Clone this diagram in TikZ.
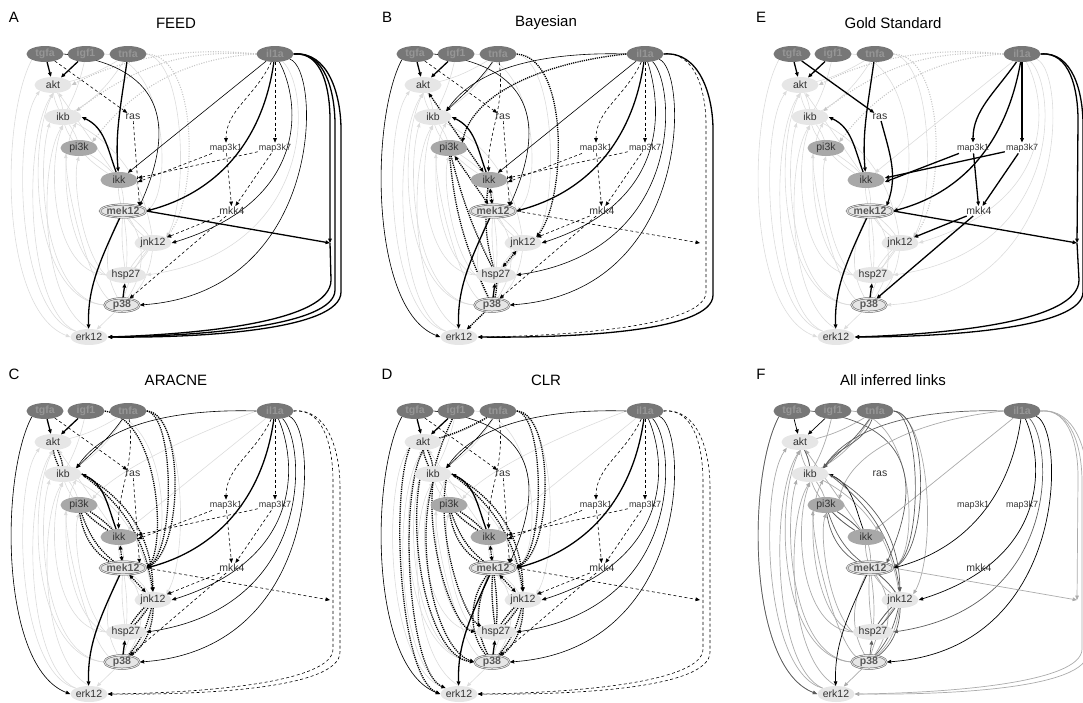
\documentclass[tikz,border=0pt]{standalone}
\usepackage{fontspec}
\setmainfont{Liberation Sans}
\usetikzlibrary{shapes.geometric,arrows.meta,backgrounds}

\definecolor{inpfill}{HTML}{777777}
\definecolor{inptext}{HTML}{969696}
\definecolor{midfill}{HTML}{A8A8A8}
\definecolor{litfill}{HTML}{E6E6E6}
\definecolor{obsline}{HTML}{595959}
\definecolor{bgline}{HTML}{DCDCDC}
\definecolor{fdark}{HTML}{5C5C5C}
\definecolor{flight}{HTML}{ABABAB}

\tikzset{
  gnode/.style={ellipse, inner sep=0pt, minimum width=37pt, minimum height=16pt,
    font=\fontsize{10.5}{11}\selectfont, text=black!80},
  inp/.style={gnode, fill=inpfill, text=inptext, font=\fontsize{10.5}{11}\selectfont\bfseries},
  lit/.style={gnode, fill=litfill},
  mid/.style={gnode, fill=midfill},
  obs/.style={gnode, fill=litfill, draw=obsline, double=litfill, double distance=0.9pt,
    line width=0.5pt, minimum width=35pt, minimum height=13pt, text=obsline,
    font=\fontsize{10.5}{11}\selectfont\bfseries},
  lbl/.style={inner sep=1pt, font=\fontsize{10.5}{11}\selectfont, text=black!80},
  mlbl/.style={lbl, font=\fontsize{9}{10}\selectfont},
  ttl/.style={font=\fontsize{15}{16}\selectfont},
  bg/.style={->, draw=bgline, line width=0.6pt},
  bgdot/.style={->, draw=bgline!90!black, line width=1.1pt, dash pattern=on 1pt off 1.5pt},
  hit/.style={->, line width=0.6pt},
  hitk/.style={->, line width=1.3pt},
  hitd/.style={->, line width=0.6pt, dash pattern=on 3pt off 2.5pt},
  hitp/.style={->, line width=1.3pt, dash pattern=on 1.2pt off 1pt},
  fblk/.style={->, line width=0.7pt},
  fdrk/.style={->, draw=fdark, line width=0.7pt},
  flgt/.style={->, draw=flight, line width=0.7pt},
}

% the nodes of one panel
\newcommand{\cellnet}{%
  \node[inp] (tgfa) at (45,54) {tgfa};
  \node[inp] (igf1) at (86,54) {igf1};
  \node[inp] (tnfa) at (128,54) {tnfa};
  \node[inp] (il1a) at (275,54) {il1a};
  \node[lit] (akt) at (53,85) {akt};
  \node[lit] (ikb) at (63,117) {ikb};
  \node[lbl] (ras) at (133,117) {ras};
  \node[mid] (pi3k) at (79,148) {pi3k};
  \node[mlbl] (map3k1) at (226,148) {map3k1};
  \node[mlbl] (map3k7) at (275,148) {map3k7};
  \node[mid] (ikk) at (119,180) {ikk};
  \node[obs] (mek12) at (123,211) {mek12};
  \node[lbl] (mkk4) at (232,211) {mkk4};
  \node[lit] (jnk12) at (153,243) {jnk12};
  \coordinate (junc) at (330,243);
  \node[lit] (hsp27) at (126,275) {hsp27};
  \node[obs] (p38) at (122,305) {p38};
  \node[lit] (erk12) at (89,337) {erk12};
}

% prior links of the left column
\newcommand{\priornet}[1]{%
  \draw[#1] (tgfa.south west) .. controls (0,120) and (0,310) .. (erk12.west);
  \draw[#1] (erk12.north west) .. controls (16,315) and (12,130) .. (akt.south west);
  \draw[#1] (erk12.north west) .. controls (26,310) and (22,140) .. (akt.south);
  \draw[#1] (p38.west) .. controls (34,300) and (26,150) .. (akt.south);
  \draw[#1] (p38.west) .. controls (44,300) and (36,170) .. (ikb.south west);
  \draw[#1] (erk12.north) .. controls (38,300) and (40,160) .. (ikb.south);
  \draw[#1] (hsp27.west) .. controls (54,272) and (46,170) .. (ikb.south);
  \draw[#1] (hsp27.west) .. controls (68,262) and (56,160) .. (ikb.south east);
  \draw[#1] (hsp27.west) .. controls (82,252) and (72,180) .. (pi3k.south);
  \draw[#1] (p38.north west) .. controls (88,282) and (66,190) .. (pi3k.south west);
  \draw[#1] (akt) to[bend left=12] (ikb);
  \draw[#1] (ikb) to[bend left=12] (akt);
  \draw[#1] (ikb) to[bend left=12] (pi3k);
  \draw[#1] (pi3k) to[bend left=12] (ikb);
  \draw[#1] (pi3k) to[bend left=8] (ikk);
  \draw[#1] (ikk) to[bend left=8] (pi3k);
  \draw[#1] (ikk) to[bend left=10] (mek12);
  \draw[#1] (mek12) to[bend left=10] (ikk);
  \draw[#1] (mek12) to[bend left=10] (jnk12);
  \draw[#1] (jnk12) to[bend left=10] (mek12);
  \draw[#1] (mek12) to[bend left=6] (hsp27);
  \draw[#1] (hsp27) to[bend left=6] (mek12);
  \draw[#1] (mek12) to[bend right=30] (p38);
  \draw[#1] (p38) to[bend right=38] (mek12);
  \draw[#1] (jnk12) to[bend left=8] (hsp27);
  \draw[#1] (hsp27) to[bend left=8] (jnk12);
  \draw[#1] (jnk12) to[bend left=22] (p38);
  \draw[#1] (p38) to[bend left=12] (jnk12);
  \draw[#1] (p38) -- (erk12);
  \draw[#1] (ikk) -- (akt);
  \draw[#1] (jnk12) to[bend right=28] (ikb);
  \draw[#1] (tnfa) to[bend left=10] (akt);
  \draw[#1] (tnfa) to[bend left=15] (ikb);
  \draw[#1] (igf1) to[bend left=8] (ikb);
  \draw[#1] (igf1.east) .. controls (168,60) and (172,190) .. (mek12.east);
  \draw[#1] (tnfa.east) .. controls (186,62) and (188,200) .. (jnk12.north east);
}

% links shared by the four inferred panels
\newcommand{\stimlinks}{%
  \draw[hitk] (tgfa) -- (akt);
  \draw[hitk] (igf1) -- (akt);
  \draw[hitd] (tgfa) -- (ras);
  \draw[hitk] (ikk) to[out=110,in=-25] (ikb.east);
  \draw[hitk] (il1a) to[out=-98,in=15] (mek12.east);
  \draw[hitd] (ras) -- (mek12.north east);
  \draw[hitk] (p38) -- (hsp27);
  \draw[hitk] (mek12) to[out=-115,in=92] (erk12);
}
\newcommand{\mapcascade}{%
  \draw[hitd] (il1a) to[out=-115,in=90] (map3k1);
  \draw[hitd] (il1a) -- (map3k7);
  \draw[hitd] (map3k1) -- ([yshift=-2pt]ikk.east);
  \draw[hitd] (map3k7) -- ([yshift=2pt]ikk.east);
  \draw[hitd] (map3k1) -- (mkk4);
  \draw[hitd] (map3k7) -- (mkk4);
  \draw[hitd] (mkk4) -- (jnk12);
  \draw[hitd] (mkk4) -- (p38);
}
\newcommand{\stimdots}{%
  \draw[bgdot] (il1a.west) .. controls (190,50) and (140,62) .. (ikb.north east);
  \draw[bgdot] (il1a.west) .. controls (190,58) and (135,85) .. (pi3k.north east);
  \draw[bgdot] (il1a.west) .. controls (180,46) and (120,60) .. (akt.east);
  \draw[bgdot] (tnfa.east) .. controls (200,56) and (198,200) .. (jnk12.north east);
}

\begin{document}
\begin{tikzpicture}[x=1pt, y=-1pt, >={Triangle[length=4.4pt,width=3.6pt]}]
\useasboundingbox (0,0) rectangle (1083,702);

% A: FEED
\begin{scope}[shift={(0,0)}, name prefix=a-]
  \node[ttl] (tag) at (14,17) {A};
  \node[ttl] (ttl) at (176,23) {FEED};
  \cellnet
  \begin{scope}[on background layer]
    \priornet{bg}
    \stimdots
    \draw[bg] (il1a) .. controls (312,90) and (316,250) .. (hsp27.east);
    \stimlinks
    \mapcascade
    \draw[hit] (tgfa.east) .. controls (160,66) and (178,120) .. (mek12.north east);
    \draw[hitk] (tnfa) to[out=-98,in=95] (ikk);
    \draw[hit] (il1a) -- (ikk);
    \draw[hit] (il1a) .. controls (300,100) and (312,200) .. (jnk12.east);
    \draw[hit] (il1a) .. controls (322,70) and (324,292) .. (p38.east);
    \draw[hitk] (il1a.east) to[out=5,in=90] (330,120) -- (junc);
    \draw[hitk] (il1a.east) to[out=5,in=90] (335,125) -- (335,290) .. controls (335,326) and (200,336) .. (erk12.east);
    \draw[hitk] (il1a.east) to[out=5,in=90] (341,130) -- (341,292) .. controls (341,330) and (200,338) .. (erk12.east);
    \draw[hitk] (junc) -- (331,280) .. controls (331,322) and (200,334) .. (erk12.east);
    \draw[hitk] (mek12.east) -- (junc);
  \end{scope}
\end{scope}

% B: Bayesian
\begin{scope}[shift={(370,0)}, name prefix=b-]
  \node[ttl] (tag) at (17,17) {B};
  \node[ttl] (ttl) at (176,23) {Bayesian};
  \cellnet
  \begin{scope}[on background layer]
    \priornet{bg}
    \stimlinks
    \mapcascade
    \draw[hit] (tgfa.east) .. controls (160,66) and (178,120) .. (mek12.north east);
    \draw[hit] (tgfa.south west) .. controls (0,120) and (0,310) .. (erk12.west);
    \draw[hit] (tnfa) to[out=-125,in=45] (ikb.north east);
    \draw[hit] (il1a.west) .. controls (190,52) and (110,62) .. (ikb.north east);
    \draw[hitd] (tnfa) to[out=-82,in=92] (ikk);
    \draw[hitp] (tnfa.east) .. controls (200,58) and (196,200) .. (jnk12.north east);
    \draw[hitp] (il1a.west) .. controls (180,62) and (105,90) .. (pi3k.north east);
    \draw[hitp,<->] (akt) -- (ikk);
    \draw[hit] (il1a) -- (ikk);
    \draw[hitp,<->] (pi3k) -- (mek12);
    \draw[hitp] (pi3k) to[bend right=6] (hsp27);
    \draw[hitp] (p38) to[bend left=10] (pi3k);
    \draw[hitp,<->] (ikk) -- (mek12);
    \draw[hitp] (ikk) to[bend right=12] (hsp27);
    \draw[hitp,<->] (hsp27) -- (jnk12);
    \draw[hitp] (hsp27) to[bend left=12] (p38);
    \draw[hitp] (p38) -- (erk12);
    \draw[hit] (il1a) .. controls (290,100) and (305,200) .. (jnk12.east);
    \draw[hit] (il1a) .. controls (306,85) and (316,250) .. (hsp27.east);
    \draw[hit] (il1a) .. controls (318,70) and (324,292) .. (p38.east);
    \draw[hitd] (il1a.east) to[out=5,in=90] (336,125) -- (336,292) .. controls (336,326) and (200,336) .. (erk12.east);
    \draw[hitk] (il1a.east) to[out=5,in=90] (343,130) -- (343,295) .. controls (343,332) and (200,338) .. (erk12.east);
    \draw[hitd] (mek12.east) -- (junc);
  \end{scope}
\end{scope}

% E: Gold Standard
\begin{scope}[shift={(747,0)}, name prefix=e-]
  \node[ttl] (tag) at (14,17) {E};
  \node[ttl] (ttl) at (146,23) {Gold Standard};
  \cellnet
  \begin{scope}[on background layer]
    \priornet{bg}
    \stimdots
    \draw[bg] (il1a) -- (ikk);
    \draw[bg] (il1a) .. controls (300,100) and (312,200) .. (jnk12.east);
    \draw[bg] (il1a) .. controls (310,85) and (318,250) .. (hsp27.east);
    \draw[bg] (il1a) .. controls (320,70) and (326,292) .. (p38.east);
    \draw[hitk] (tgfa) -- (akt);
    \draw[hitk] (igf1) -- (akt);
    \draw[hitk] (tgfa) -- (ras);
    \draw[hitk] (ras) to[out=-75,in=70] (mek12.north east);
    \draw[hitk] (tnfa) to[out=-98,in=95] (ikk);
    \draw[hitk] (ikk) to[out=110,in=-25] (ikb.east);
    \draw[hitk] (il1a) to[out=-125,in=90] (map3k1);
    \draw[hitk] (il1a) -- (map3k7);
    \draw[hitk] (map3k1) -- ([yshift=-2pt]ikk.east);
    \draw[hitk] (map3k7) -- ([yshift=2pt]ikk.east);
    \draw[hitk] (map3k1) -- (mkk4);
    \draw[hitk] (map3k7) -- (mkk4);
    \draw[hitk] (mkk4) -- (jnk12);
    \draw[hitk] (mkk4) -- (p38);
    \draw[hitk] (il1a) to[out=-100,in=15] (mek12.east);
    \draw[hitk] (il1a.east) to[out=5,in=90] (331,120) -- (junc);
    \draw[hitk] (il1a.east) to[out=5,in=90] (336,125) -- (336,292) .. controls (336,328) and (200,337) .. (erk12.east);
    \draw[hitk] (junc) -- (332,280) .. controls (332,322) and (200,334) .. (erk12.east);
    \draw[hitk] (mek12.east) -- (junc);
    \draw[hitk] (p38) -- (hsp27);
    \draw[hitk] (mek12) to[out=-115,in=92] (erk12);
  \end{scope}
\end{scope}

% C: ARACNE
\begin{scope}[shift={(0,357)}, name prefix=c-]
  \node[ttl] (tag) at (14,17) {C};
  \node[ttl] (ttl) at (176,23) {ARACNE};
  \cellnet
  \begin{scope}[on background layer]
    \priornet{bg}
    \draw[bg] (il1a.west) .. controls (200,75) and (120,110) .. (pi3k.north east);
    \draw[bg] (il1a) -- (ikk);
    \stimlinks
    \mapcascade
    \draw[hit] (tgfa.south west) .. controls (0,120) and (0,310) .. (erk12.west);
    \draw[hit] (tnfa) to[out=-125,in=45] (ikb.north east);
    \draw[hit] (il1a.west) .. controls (190,52) and (110,62) .. (ikb.north east);
    \draw[hitd] (tnfa) to[out=-82,in=92] (ikk);
    \draw[hitp] (igf1.east) .. controls (160,62) and (166,190) .. (mek12.east);
    \draw[hitp] (tnfa.east) .. controls (174,58) and (176,190) .. (mek12.east);
    \draw[hitp] (tnfa.east) .. controls (184,56) and (184,190) .. (mek12.east);
    \draw[hitp] (akt) to[bend left=12] (ikb);
    \draw[hitp] (ikb) to[bend left=12] (akt);
    \draw[hitp] (ikb.east) to[bend left=22] (jnk12.north);
    \draw[hitp] (ikb.east) to[bend left=30] (jnk12.north);
    \draw[hitp] (pi3k) to[bend left=8] (ikk);
    \draw[hitp] (ikk) to[bend left=8] (pi3k);
    \draw[hitp] (pi3k) to[bend right=18] (mek12);
    \draw[hitp] (pi3k) to[bend right=30] (mek12);
    \draw[hitp,<->] (ikk) -- (mek12);
    \draw[hitp,<->] (mek12) -- (jnk12);
    \draw[hitp] (jnk12) to[bend left=8] (hsp27);
    \draw[hitp] (hsp27) to[bend left=8] (jnk12);
    \draw[hitp] (jnk12) to[bend left=15] (p38);
    \draw[hitp] (jnk12) to[bend left=28] (p38);
    \draw[hit] (il1a) .. controls (295,100) and (308,200) .. (jnk12.east);
    \draw[hit] (il1a) .. controls (306,85) and (316,250) .. (hsp27.east);
    \draw[hit] (il1a) .. controls (318,70) and (324,292) .. (p38.east);
    \draw[hitd] (il1a.east) to[out=5,in=90] (333,125) -- (333,292) .. controls (333,326) and (200,336) .. (erk12.east);
    \draw[hitd] (il1a.east) to[out=5,in=90] (340,130) -- (340,295) .. controls (340,332) and (200,338) .. (erk12.east);
    \draw[hitd] (mek12.east) -- (junc);
  \end{scope}
\end{scope}

% D: CLR
\begin{scope}[shift={(370,357)}, name prefix=d-]
  \node[ttl] (tag) at (17,17) {D};
  \node[ttl] (ttl) at (176,23) {CLR};
  \cellnet
  \begin{scope}[on background layer]
    \priornet{bg}
    \draw[bg] (il1a.west) .. controls (200,75) and (120,110) .. (pi3k.north east);
    \draw[bg] (il1a) -- (ikk);
    \stimlinks
    \mapcascade
    \draw[hit] (tgfa.east) .. controls (160,66) and (178,120) .. (mek12.north east);
    \draw[hit] (tgfa.south west) .. controls (0,120) and (0,310) .. (erk12.west);
    \draw[hit] (tnfa) to[out=-125,in=45] (ikb.north east);
    \draw[hit] (il1a.west) .. controls (190,52) and (110,62) .. (ikb.north east);
    \draw[hitd] (tnfa) to[out=-82,in=92] (ikk);
    \draw[hitp] (tnfa) to[bend left=8] (akt);
    \draw[hitp] (igf1) to[bend right=5] (ikb);
    \draw[hitp] (tnfa.east) .. controls (174,58) and (176,190) .. (mek12.east);
    \draw[hitp] (tnfa.east) .. controls (184,56) and (184,190) .. (mek12.east);
    \draw[hitp] (akt) to[bend left=12] (ikb);
    \draw[hitp] (ikb) to[bend left=12] (akt);
    \draw[hitp] (akt.south west) .. controls (20,140) and (30,320) .. (erk12.west);
    \draw[hitp] (akt.south) .. controls (28,140) and (38,315) .. (erk12.north west);
    \draw[hitp] (ikb.south west) .. controls (38,190) and (60,300) .. (p38.west);
    \draw[hitp] (ikb.south) .. controls (44,190) and (66,292) .. (p38.west);
    \draw[hitp] (ikb.south) .. controls (56,190) and (84,270) .. (hsp27.west);
    \draw[hitp] (ikb.south east) .. controls (66,180) and (94,260) .. (hsp27.north west);
    \draw[hitp] (ikb.east) to[bend left=22] (jnk12.north);
    \draw[hitp] (ikb.east) to[bend left=30] (jnk12.north);
    \draw[hitp] (pi3k) to[bend left=8] (ikk);
    \draw[hitp] (ikk) to[bend left=8] (pi3k);
    \draw[hitp] (pi3k) to[bend right=18] (mek12);
    \draw[hitp] (pi3k) to[bend right=30] (mek12);
    \draw[hitp,<->] (ikk) -- (mek12);
    \draw[hitp,<->] (mek12) -- (jnk12);
    \draw[hitp] (mek12) to[bend left=6] (hsp27);
    \draw[hitp] (hsp27) to[bend left=6] (mek12);
    \draw[hitp] (mek12) to[bend right=28] (p38);
    \draw[hitp] (mek12) to[bend right=40] (p38);
    \draw[hitp] (jnk12) to[bend left=8] (hsp27);
    \draw[hitp] (hsp27) to[bend left=8] (jnk12);
    \draw[hitp] (jnk12) to[bend left=15] (p38);
    \draw[hitp] (jnk12) to[bend left=28] (p38);
    \draw[hit] (il1a) .. controls (295,100) and (308,200) .. (jnk12.east);
    \draw[hit] (il1a) .. controls (306,85) and (316,250) .. (hsp27.east);
    \draw[hit] (il1a) .. controls (318,70) and (324,292) .. (p38.east);
    \draw[hitd] (il1a.east) to[out=5,in=90] (333,125) -- (333,292) .. controls (333,326) and (200,336) .. (erk12.east);
    \draw[hitd] (il1a.east) to[out=5,in=90] (340,130) -- (340,295) .. controls (340,332) and (200,338) .. (erk12.east);
    \draw[hitd] (mek12.east) -- (junc);
  \end{scope}
\end{scope}

% F: All inferred links
\begin{scope}[shift={(747,357)}, name prefix=f-]
  \node[ttl] (tag) at (14,17) {F};
  \node[ttl] (ttl) at (146,23) {All inferred links};
  \cellnet
  \begin{scope}[on background layer]
    \priornet{flgt}
    \draw[fblk] (tgfa) -- (akt);
    \draw[fblk] (igf1) -- (akt);
    \draw[fdrk] (tgfa.south west) .. controls (0,120) and (0,310) .. (erk12.west);
    \draw[fdrk] (tgfa.east) .. controls (160,66) and (178,120) .. (mek12.north east);
    \draw[fdrk] (tnfa) to[out=-125,in=45] (ikb.north east);
    \draw[fdrk] (tnfa) to[out=-110,in=55] (ikb.north east);
    \draw[fdrk] (il1a.west) .. controls (190,52) and (110,62) .. (ikb.north east);
    \draw[flgt] (il1a.west) .. controls (180,62) and (105,90) .. (pi3k.north east);
    \draw[flgt] (il1a) -- (ikk);
    \draw[fblk] (ikk) to[out=110,in=-25] (ikb.east);
    \draw[fdrk] (akt) to[bend left=12] (ikb);
    \draw[fdrk] (pi3k) to[bend left=8] (ikk);
    \draw[fdrk] (ikk) to[bend left=8] (pi3k);
    \draw[fdrk] (pi3k) to[bend right=18] (mek12);
    \draw[fdrk] (pi3k) to[bend right=30] (mek12);
    \draw[fdrk] (ikb.east) to[bend left=22] (jnk12.north);
    \draw[fdrk] (ikb.east) to[bend left=30] (jnk12.north);
    \draw[fdrk] (tnfa.east) .. controls (174,58) and (176,190) .. (mek12.east);
    \draw[fdrk] (tnfa.east) .. controls (182,56) and (182,190) .. (mek12.east);
    \draw[fblk] (il1a) to[out=-98,in=15] (mek12.east);
    \draw[fblk] (il1a) .. controls (295,100) and (308,200) .. (jnk12.east);
    \draw[fdrk] (il1a) .. controls (306,85) and (316,250) .. (hsp27.east);
    \draw[fblk] (il1a) .. controls (318,70) and (324,292) .. (p38.east);
    \draw[flgt] (il1a.east) to[out=5,in=90] (331,120) -- (junc);
    \draw[flgt] (il1a.east) to[out=5,in=90] (335,125) -- (335,292) .. controls (335,326) and (200,336) .. (erk12.east);
    \draw[flgt] (il1a.east) to[out=5,in=90] (341,130) -- (341,295) .. controls (341,332) and (200,338) .. (erk12.east);
    \draw[flgt] (mek12.east) -- (junc);
    \draw[fdrk] (mek12) to[bend left=10] (jnk12);
    \draw[fdrk] (jnk12) to[bend left=8] (hsp27);
    \draw[fdrk] (hsp27) to[bend left=8] (jnk12);
    \draw[fdrk] (jnk12) to[bend left=15] (p38);
    \draw[fdrk] (jnk12) to[bend left=28] (p38);
    \draw[fdrk] (p38) -- (hsp27);
    \draw[fblk] (mek12) to[out=-115,in=92] (erk12);
  \end{scope}
\end{scope}
\end{tikzpicture}
\end{document}
